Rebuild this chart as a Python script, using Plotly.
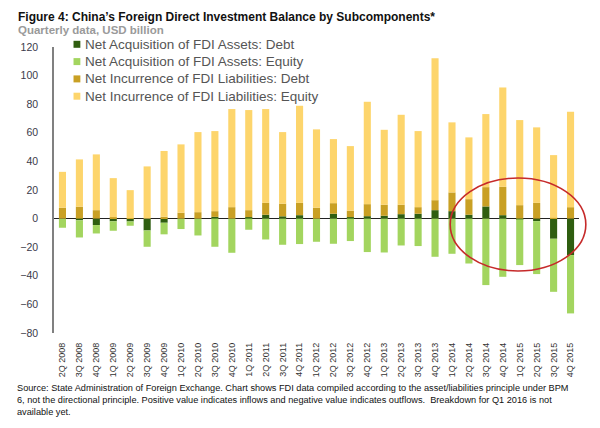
import plotly.graph_objects as go

quarters = ["2Q 2008", "3Q 2008", "4Q 2008",
            "1Q 2009", "2Q 2009", "3Q 2009", "4Q 2009",
            "1Q 2010", "2Q 2010", "3Q 2010", "4Q 2010",
            "1Q 2011", "2Q 2011", "3Q 2011", "4Q 2011",
            "1Q 2012", "2Q 2012", "3Q 2012", "4Q 2012",
            "1Q 2013", "2Q 2013", "3Q 2013", "4Q 2013",
            "1Q 2014", "2Q 2014", "3Q 2014", "4Q 2014",
            "1Q 2015", "2Q 2015", "3Q 2015", "4Q 2015"]

assets_debt = [0.0, -1.2, -4.5, -1.9, -2.0, -8.3, -2.9,
               0.0, 0.0, 1.2, 0.0, 1.0, 2.7, 1.6, 2.4,
               0.0, 3.4, 1.0, 1.7, 2.0, 3.1, 3.4, 5.9,
               5.2, 2.7, 8.5, 2.4, -0.5, -1.8, -14.1, -25.5]

assets_equity = [-6.4, -12.0, -5.9, -6.6, -3.0, -11.4, -8.1,
                 -7.3, -11.8, -19.7, -23.9, -7.8, -14.6, -18.3, -17.8,
                 -16.2, -17.6, -15.7, -23.4, -23.7, -18.8, -19.2, -26.7,
                 -24.6, -31.4, -46.5, -40.7, -32.0, -37.0, -37.1, -40.8]

liab_debt = [7.6, 8.3, 5.9, 1.0, 0.3, 0.0, 1.3,
             4.1, 4.5, 4.0, 8.0, 4.9, 8.3, 8.8, 8.6,
             7.6, 7.4, 4.5, 8.4, 7.7, 6.6, 4.6, 7.0,
             13.1, 10.9, 13.5, 19.8, 9.4, 11.0, 0.5, 8.0]

liab_equity = [25.1, 33.1, 39.0, 27.3, 19.6, 36.5, 46.0,
               47.8, 56.0, 56.0, 68.6, 70.0, 65.6, 50.1, 67.9,
               54.8, 44.8, 45.2, 71.6, 52.4, 62.9, 53.2, 99.3,
               49.0, 43.2, 51.1, 69.5, 59.5, 52.8, 43.9, 66.7]

y_ticks = [-80, -60, -40, -20, 0, 20, 40, 60, 80, 100, 120]

series_names = ["Net Acquisition of FDI Assets: Debt",
                "Net Acquisition of FDI Assets: Equity",
                "Net Incurrence of FDI Liabilities: Debt",
                "Net Incurrence of FDI Liabilities: Equity"]
series_values = [assets_debt, assets_equity, liab_debt, liab_equity]
series_colors = ["#2f5e10", "#a3d55f", "#c9a024", "#fdd56c"]

FONT = "Liberation Sans, Arial, sans-serif"

fig = go.Figure()
for name, vals, col in zip(series_names, series_values, series_colors):
    fig.add_trace(go.Bar(x=quarters, y=vals, name=name, showlegend=False,
                         marker=dict(color=col, line=dict(width=0))))

# page body adds an 8px offset; work in reference-pixel coordinates
OFF = 8
W, H = 600 - OFF, 428 - OFF
L = 41 - OFF
T = 47 - OFF
R = W - (579 - OFF)
B = H - (333 - OFF)
pw, ph = W - L - R, H - T - B


def px(x):
    return (x - OFF - L) / pw


def py(y):
    return (H - B - (y - OFF)) / ph


fig.update_layout(
    width=W, height=H,
    margin=dict(l=L, r=R, t=T, b=B),
    paper_bgcolor="white", plot_bgcolor="white",
    barmode="relative", bargap=0.58,
    font=dict(family=FONT, color="#333333"),
    showlegend=False,
    xaxis=dict(type="category", tickangle=-90, showgrid=False, showline=False,
               ticks="", tickfont=dict(size=9, color="#333333", family=FONT),
               ticklabelstandoff=7, range=[-0.5, 30.5]),
    yaxis=dict(range=[-80, 120], tickvals=y_ticks, showgrid=False,
               showline=True, linecolor="#808080", linewidth=1.5,
               zeroline=True, zerolinecolor="#222222", zerolinewidth=1.2,
               ticks="", tickfont=dict(size=10.5, color="#3a3a4a", family=FONT),
               ticklabelstandoff=12),
)

# legend (manual, to match compact row spacing)
for i, (name, col) in enumerate(zip(series_names, series_colors)):
    yc = 44.3 + 17.3 * i
    fig.add_shape(type="rect", xref="paper", yref="paper",
                  x0=px(61), x1=px(68), y0=py(yc + 3.5), y1=py(yc - 3.5),
                  fillcolor=col, line=dict(width=0))
    fig.add_annotation(xref="paper", yref="paper", x=px(71), y=py(yc),
                       xanchor="left", yanchor="middle", showarrow=False,
                       text=name, font=dict(size=13.5, color="#555555", family=FONT))

fig.add_annotation(xref="paper", yref="paper", x=px(2), y=py(8),
                   xanchor="left", yanchor="top", showarrow=False,
                   text="<b>Figure 4: China\u2019s Foreign Direct Investment Balance by Subcomponents*</b>",
                   font=dict(size=12, color="#111111", family=FONT))
fig.add_annotation(xref="paper", yref="paper", x=px(2), y=py(22),
                   xanchor="left", yanchor="top", showarrow=False,
                   text="<b>Quarterly data, USD billion</b>",
                   font=dict(size=11.5, color="#9a9a9a", family=FONT))
fig.add_annotation(xref="paper", yref="paper", x=px(1), y=py(381),
                   xanchor="left", yanchor="top", showarrow=False, align="left",
                   text=("Source: State Administration of Foreign Exchange. Chart shows FDI data compiled according to the asset/liabilities principle under BPM<br>"
                         "6, not the directional principle. Positive value indicates inflows and negative value indicates outflows.  Breakdown for Q1 2016 is not<br>"
                         "available yet."),
                   font=dict(size=9.2, color="#111111", family=FONT))

fig.add_shape(type="circle", xref="paper", yref="paper",
              x0=px(447), x1=px(586), y0=py(271), y1=py(178),
              line=dict(color="#c62a2a", width=1.6))

fig.write_html("out.html")
